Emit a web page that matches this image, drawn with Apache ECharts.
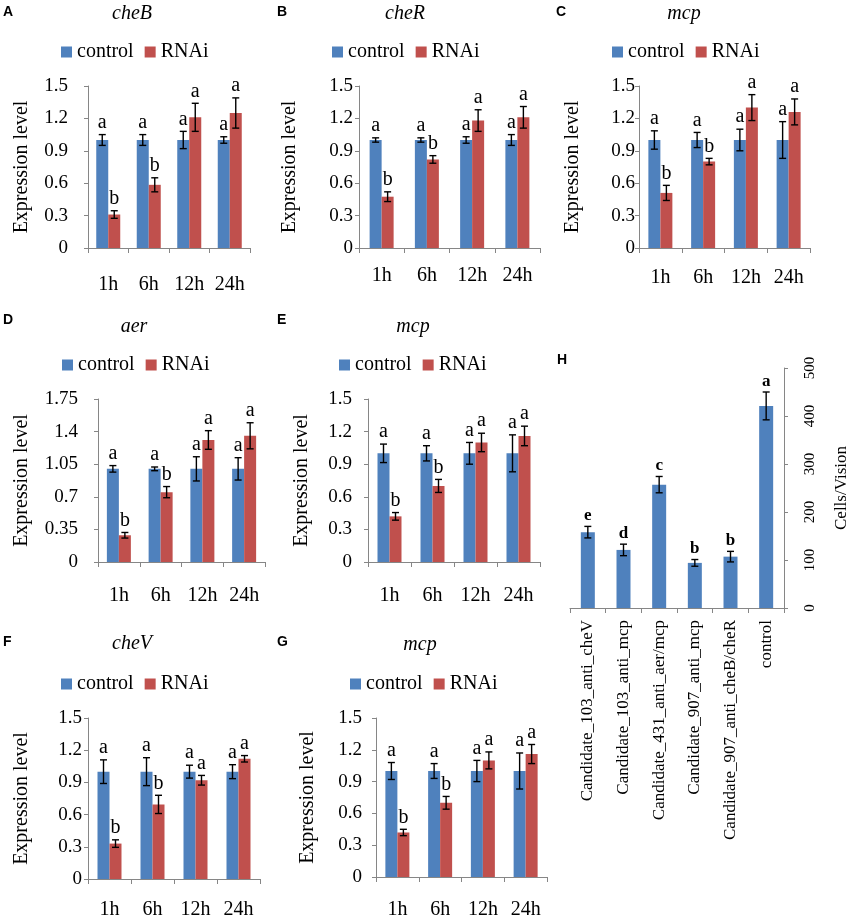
<!DOCTYPE html>
<html>
<head>
<meta charset="utf-8">
<script src="https://cdn.jsdelivr.net/npm/echarts@6/dist/echarts.min.js"></script>
<style>
  html, body { margin: 0; padding: 0; background: #fff; }
  #chart { width: 851px; height: 920px; }
</style>
</head>
<body>
<div id="chart"></div>
<script>
// categories
const hours = ['1h', '6h', '12h', '24h'];
const seriesNames = ['control', 'RNAi'];

// A - cheB
const cheBCtl = [1.0, 1.0, 1.0, 1.0];
const cheBCtlErr = [0.05, 0.05, 0.08, 0.03];
const cheBRnai = [0.31, 0.585, 1.21, 1.25];
const cheBRnaiErr = [0.035, 0.065, 0.13, 0.14];
const cheBCtlSig = ['a', 'a', 'a', 'a'];
const cheBRnaiSig = ['b', 'b', 'a', 'a'];

// B - cheR
const cheRCtl = [1.0, 1.0, 1.0, 1.0];
const cheRCtlErr = [0.02, 0.02, 0.03, 0.05];
const cheRRnai = [0.475, 0.82, 1.18, 1.21];
const cheRRnaiErr = [0.045, 0.035, 0.1, 0.1];
const cheRCtlSig = ['a', 'a', 'a', 'a'];
const cheRRnaiSig = ['b', 'b', 'a', 'a'];

// C - mcp
const mcpCCtl = [1.0, 1.0, 1.0, 1.0];
const mcpCCtlErr = [0.085, 0.07, 0.1, 0.17];
const mcpCRnai = [0.51, 0.80, 1.30, 1.26];
const mcpCRnaiErr = [0.07, 0.03, 0.12, 0.12];
const mcpCCtlSig = ['a', 'a', 'a', 'a'];
const mcpCRnaiSig = ['b', 'b', 'a', 'a'];

// D - aer
const aerCtl = [1.0, 1.0, 1.0, 1.0];
const aerCtlErr = [0.035, 0.02, 0.13, 0.12];
const aerRnai = [0.287, 0.75, 1.31, 1.355];
const aerRnaiErr = [0.03, 0.06, 0.1, 0.14];
const aerCtlSig = ['a', 'a', 'a', 'a'];
const aerRnaiSig = ['b', 'b', 'a', 'a'];

// E - mcp
const mcpECtl = [1.0, 1.0, 1.0, 1.0];
const mcpECtlErr = [0.085, 0.07, 0.1, 0.17];
const mcpERnai = [0.42, 0.70, 1.10, 1.16];
const mcpERnaiErr = [0.035, 0.06, 0.085, 0.09];
const mcpECtlSig = ['a', 'a', 'a', 'a'];
const mcpERnaiSig = ['b', 'b', 'a', 'a'];

// F - cheV
const cheVCtl = [1.0, 1.0, 1.0, 1.0];
const cheVCtlErr = [0.11, 0.13, 0.06, 0.065];
const cheVRnai = [0.33, 0.695, 0.92, 1.12];
const cheVRnaiErr = [0.035, 0.085, 0.045, 0.03];
const cheVCtlSig = ['a', 'a', 'a', 'a'];
const cheVRnaiSig = ['b', 'b', 'a', 'a'];

// G - mcp
const mcpGCtl = [1.0, 1.0, 1.0, 1.0];
const mcpGCtlErr = [0.08, 0.07, 0.1, 0.17];
const mcpGRnai = [0.42, 0.70, 1.10, 1.16];
const mcpGRnaiErr = [0.03, 0.06, 0.08, 0.09];
const mcpGCtlSig = ['a', 'a', 'a', 'a'];
const mcpGRnaiSig = ['b', 'b', 'a', 'a'];

// H - cells per vision
const candidates = [
  'Candidate_103_anti_cheV',
  'Candidate_103_anti_mcp',
  'Candidate_431_anti_aer/mcp',
  'Candidate_907_anti_mcp',
  'Candidate_907_anti_cheB/cheR',
  'control'
];
const cellsVision = [158, 121, 257, 94, 107, 421];
const cellsVisionErr = [12, 12, 17, 7, 11, 29];
const cellsVisionSig = ['e', 'd', 'c', 'b', 'b', 'a'];

// layout of the small expression panels
const panels = [
  { letter: 'A', letterPos: [3, 5], gene: 'cheB', genePos: [132, 15], legendPos: [61, 52],
    grid: { left: 88, top: 86, width: 162, height: 162 }, max: 1.5, step: 0.3,
    yMargin: 20, xMargin: 27, nameGap: 56,
    ctl: cheBCtl, ctlErr: cheBCtlErr, ctlSig: cheBCtlSig, rnai: cheBRnai, rnaiErr: cheBRnaiErr, rnaiSig: cheBRnaiSig },
  { letter: 'B', letterPos: [277, 5], gene: 'cheR', genePos: [405, 15], legendPos: [332, 52],
    grid: { left: 359, top: 86, width: 181, height: 162 }, max: 1.5, step: 0.3,
    yMargin: 6, xMargin: 18, nameGap: 59,
    ctl: cheRCtl, ctlErr: cheRCtlErr, ctlSig: cheRCtlSig, rnai: cheRRnai, rnaiErr: cheRRnaiErr, rnaiSig: cheRRnaiSig },
  { letter: 'C', letterPos: [556, 5], gene: 'mcp', genePos: [684, 15], legendPos: [612, 52],
    grid: { left: 639, top: 86, width: 171, height: 162 }, max: 1.5, step: 0.3,
    yMargin: 4, xMargin: 20, nameGap: 56,
    ctl: mcpCCtl, ctlErr: mcpCCtlErr, ctlSig: mcpCCtlSig, rnai: mcpCRnai, rnaiErr: mcpCRnaiErr, rnaiSig: mcpCRnaiSig },
  { letter: 'D', letterPos: [3, 313], gene: 'aer', genePos: [134, 328], legendPos: [62, 365],
    grid: { left: 98, top: 399, width: 167, height: 163 }, max: 1.75, step: 0.35,
    yMargin: 20, xMargin: 24, nameGap: 66,
    ctl: aerCtl, ctlErr: aerCtlErr, ctlSig: aerCtlSig, rnai: aerRnai, rnaiErr: aerRnaiErr, rnaiSig: aerRnaiSig },
  { letter: 'E', letterPos: [277, 313], gene: 'mcp', genePos: [413, 328], legendPos: [339, 365],
    grid: { left: 368, top: 399, width: 172, height: 163 }, max: 1.5, step: 0.3,
    yMargin: 16, xMargin: 24, nameGap: 56,
    ctl: mcpECtl, ctlErr: mcpECtlErr, ctlSig: mcpECtlSig, rnai: mcpERnai, rnaiErr: mcpERnaiErr, rnaiSig: mcpERnaiSig },
  { letter: 'F', letterPos: [3, 635], gene: 'cheV', genePos: [132, 645], legendPos: [61, 684],
    grid: { left: 88, top: 718, width: 172, height: 164 }, max: 1.5, step: 0.3,
    yMargin: 6, xMargin: 21, nameGap: 56,
    ctl: cheVCtl, ctlErr: cheVCtlErr, ctlSig: cheVCtlSig, rnai: cheVRnai, rnaiErr: cheVRnaiErr, rnaiSig: cheVRnaiSig },
  { letter: 'G', letterPos: [277, 635], gene: 'mcp', genePos: [420, 646], legendPos: [350, 684],
    grid: { left: 376, top: 718, width: 171, height: 164 }, max: 1.5, step: 0.3,
    yMargin: 14, xMargin: 23, nameGap: 58,
    ctl: mcpGCtl, ctlErr: mcpGCtlErr, ctlSig: mcpGCtlSig, rnai: mcpGRnai, rnaiErr: mcpGRnaiErr, rnaiSig: mcpGRnaiSig }
];

const BLUE = '#4F81BD';
const RED = '#C0504D';
const AXIS = '#868686';
const SERIF = 'Liberation Serif';
const SANS = 'Liberation Sans';
const BAR_W = 12;

// error bars plus the significance letter above them
function errorBars(idx, vals, errs, sig, offset, textStyle) {
  return {
    type: 'custom',
    xAxisIndex: idx,
    yAxisIndex: idx,
    silent: true,
    z: 10,
    encode: { x: 0, y: 1 },
    data: vals.map((v, i) => [i, v, errs[i]]),
    renderItem: (params, api) => {
      const i = api.value(0);
      const v = api.value(1);
      const e = api.value(2);
      const top = api.coord([i, v + e]);
      const bot = api.coord([i, v - e]);
      const x = top[0] + offset;
      const cap = 3.5;
      const st = { stroke: '#000', lineWidth: 1.4 };
      return {
        type: 'group',
        children: [
          { type: 'line', shape: { x1: x, y1: top[1], x2: x, y2: bot[1] }, style: st },
          { type: 'line', shape: { x1: x - cap, y1: top[1], x2: x + cap, y2: top[1] }, style: st },
          { type: 'line', shape: { x1: x - cap, y1: bot[1], x2: x + cap, y2: bot[1] }, style: st },
          { type: 'text', x: x, y: top[1] - 2,
            style: Object.assign({ text: sig[params.dataIndex], fill: '#000',
              textAlign: 'center', textVerticalAlign: 'bottom' }, textStyle) }
        ]
      };
    }
  };
}

const option = {
  animation: false,
  backgroundColor: '#fff',
  textStyle: { fontFamily: SERIF, color: '#000' },
  title: [],
  legend: [],
  grid: [],
  xAxis: [],
  yAxis: [],
  series: []
};

panels.forEach((p, idx) => {
  option.title.push({
    text: p.letter, left: p.letterPos[0], top: p.letterPos[1], padding: 0,
    textStyle: { fontFamily: SANS, fontWeight: 'bold', fontSize: 14, color: '#000' }
  });
  option.title.push({
    text: p.gene, left: p.genePos[0], top: p.genePos[1] - 11, textAlign: 'center', padding: 0,
    textStyle: { fontFamily: SERIF, fontStyle: 'italic', fontWeight: 'normal', fontSize: 20, color: '#000' }
  });
  option.legend.push({
    data: seriesNames, left: p.legendPos[0], top: p.legendPos[1] - 10, padding: 0,
    icon: 'rect', itemWidth: 11, itemHeight: 11, itemGap: 11, selectedMode: false,
    textStyle: { fontFamily: SERIF, fontSize: 20, color: '#000' }
  });
  option.grid.push(Object.assign({ containLabel: false }, p.grid));
  option.xAxis.push({
    type: 'category', gridIndex: idx, data: hours,
    axisLine: { lineStyle: { color: AXIS, width: 1 } },
    axisTick: { show: true, length: 5, lineStyle: { color: AXIS } },
    axisLabel: { margin: p.xMargin, fontFamily: SERIF, fontSize: 20, color: '#000', interval: 0 }
  });
  option.yAxis.push({
    type: 'value', gridIndex: idx, min: 0, max: p.max, interval: p.step,
    name: 'Expression level', nameLocation: 'middle', nameGap: p.nameGap,
    nameTextStyle: { fontFamily: SERIF, fontSize: 20, color: '#000' },
    splitLine: { show: false },
    axisLine: { show: true, lineStyle: { color: AXIS, width: 1 } },
    axisTick: { show: true, length: 4, lineStyle: { color: AXIS } },
    axisLabel: {
      margin: p.yMargin, fontFamily: SERIF, fontSize: 19, color: '#000',
      formatter: v => String(+v.toFixed(2))
    }
  });
  option.series.push({
    type: 'bar', name: 'control', xAxisIndex: idx, yAxisIndex: idx,
    data: p.ctl, barWidth: BAR_W, barGap: '0%', itemStyle: { color: BLUE }
  });
  option.series.push({
    type: 'bar', name: 'RNAi', xAxisIndex: idx, yAxisIndex: idx,
    data: p.rnai, barWidth: BAR_W, barGap: '0%', itemStyle: { color: RED }
  });
  const letterStyle = { fontFamily: SERIF, fontSize: 20 };
  option.series.push(errorBars(idx, p.ctl, p.ctlErr, p.ctlSig, -BAR_W / 2, letterStyle));
  option.series.push(errorBars(idx, p.rnai, p.rnaiErr, p.rnaiSig, BAR_W / 2, letterStyle));
});

// panel H
const h = panels.length;
option.title.push({
  text: 'H', left: 557, top: 353, padding: 0,
  textStyle: { fontFamily: SANS, fontWeight: 'bold', fontSize: 14, color: '#000' }
});
option.grid.push({ left: 570, top: 368, width: 216, height: 240 });
option.xAxis.push({
  type: 'category', gridIndex: h, data: candidates,
  axisLine: { lineStyle: { color: AXIS, width: 1 } },
  axisTick: { show: true, length: 5, lineStyle: { color: AXIS } },
  axisLabel: { rotate: 90, margin: 12, interval: 0, fontFamily: SERIF, fontSize: 17, color: '#000' }
});
option.yAxis.push({
  type: 'value', gridIndex: h, position: 'right', min: 0, max: 500, interval: 100,
  name: 'Cells/Vision', nameLocation: 'middle', nameGap: 49, nameRotate: 90,
  nameTextStyle: { fontFamily: SERIF, fontSize: 17, color: '#000' },
  splitLine: { show: false },
  axisLine: { show: true, lineStyle: { color: AXIS, width: 1 } },
  axisTick: { show: true, length: 4, lineStyle: { color: AXIS } },
  axisLabel: { rotate: 90, margin: 19, fontFamily: SERIF, fontSize: 15, color: '#000' }
});
option.series.push({
  type: 'bar', name: 'cells', xAxisIndex: h, yAxisIndex: h,
  data: cellsVision, barWidth: 14, itemStyle: { color: BLUE }
});
option.series.push(errorBars(h, cellsVision, cellsVisionErr, cellsVisionSig, 0,
  { fontFamily: SERIF, fontSize: 17, fontWeight: 'bold' }));

const chart = echarts.init(document.getElementById('chart'));
chart.setOption(option);
window.addEventListener('resize', () => chart.resize());
</script>
</body>
</html>
